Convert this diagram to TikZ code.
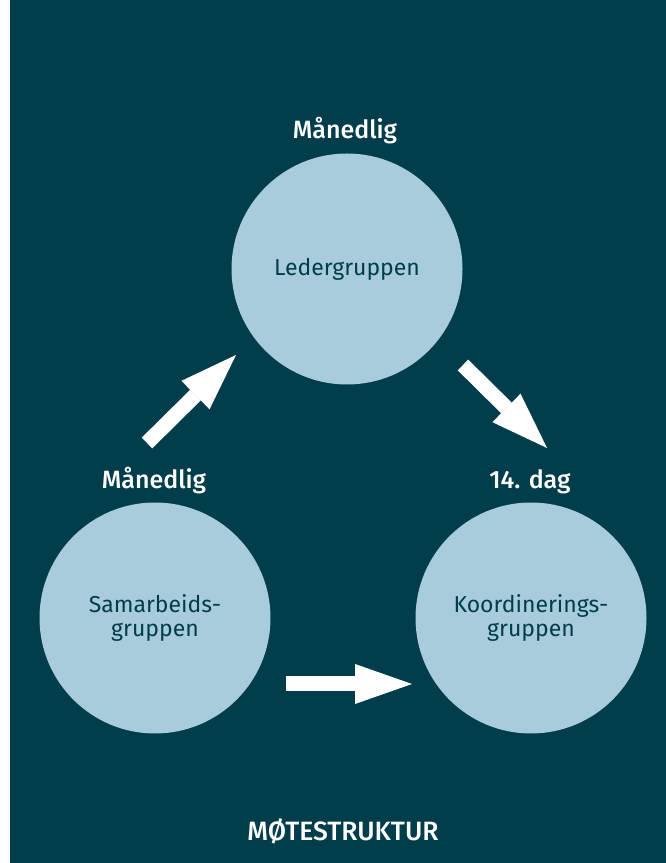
\documentclass[tikz,border=0pt]{standalone}
\usepackage{fontspec}
\setmainfont{Fira Sans}
\newfontfamily\labelfont{Fira Sans Medium}
\usetikzlibrary{arrows.meta}
\definecolor{bgteal}{RGB}{2,61,76}
\definecolor{circblue}{RGB}{168,204,219}

\begin{document}
\begin{tikzpicture}[x=1pt, y=1pt,
	group/.style={circle, fill=circblue, text=bgteal, minimum size=231pt, inner sep=0pt, align=center, font=\fontsize{23}{24}\selectfont},
	freq/.style={text=white, anchor=base, font=\labelfont\fontsize{25}{30}\selectfont},
	bigarrow/.style={white, line width=15pt, -{Triangle[length=57pt, width=40pt, line width=0pt]}}]
	\useasboundingbox (0,0) rectangle (666,863);
	\fill[bgteal] (10,0) rectangle (666,863);
	
	\node [group] (leder) at (347, 594) {Ledergruppen};
	\node [group] (samarb) at (155, 245) {Samarbeids-\\gruppen};
	\node [group] (koord) at (531, 245) {Koordinerings-\\gruppen};
	
	\node [freq] (frqleder) at (345, 724) {Månedlig};
	\node [freq] (frqsamarb) at (154, 374) {Månedlig};
	\node [freq] (frqkoord) at (530, 374) {14. dag};
	
	\node [freq, font=\labelfont\fontsize{26.5}{30}\selectfont] (title) at (343, 23) {MØTESTRUKTUR};
	
	% arrow ends
	\coordinate (up1) at (147, 420);
	\coordinate (up2) at (236, 508);
	\coordinate (down1) at (463, 498);
	\coordinate (down2) at (547, 415);
	\coordinate (right1) at (286, 179);
	\coordinate (right2) at (412, 179);
	
	\draw [bigarrow] (up1) -- (up2);
	\draw [bigarrow] (down1) -- (down2);
	\draw [bigarrow] (right1) -- (right2);
\end{tikzpicture}
\end{document}
